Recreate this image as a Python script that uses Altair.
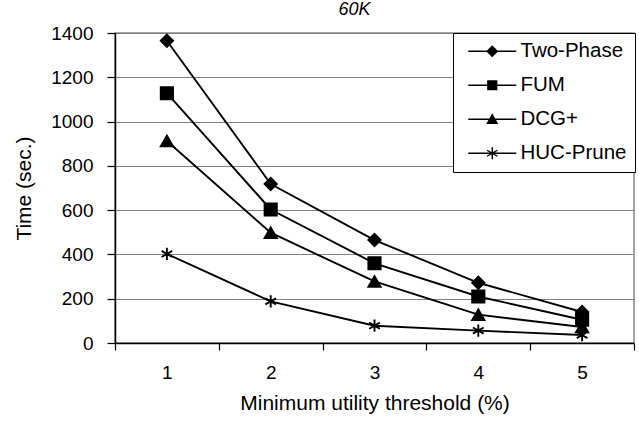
import altair as alt
import pandas as pd

thresholds = ["1", "2", "3", "4", "5"]
series_names = ["Two-Phase", "FUM", "DCG+", "HUC-Prune"]
two_phase = [1365, 718, 465, 272, 140]
fum = [1128, 603, 360, 210, 105]
dcg_plus = [912, 498, 278, 128, 72]
huc_prune = [402, 188, 78, 56, 36]
y_ticks = [0, 200, 400, 600, 800, 1000, 1200, 1400]

rows = []
for name, vals in zip(series_names, [two_phase, fum, dcg_plus, huc_prune]):
    for t, v in zip(thresholds, vals):
        rows.append({"threshold": t, "time": v, "series": name})
df = pd.DataFrame(rows)

FONT = "Liberation Sans"

# marker shapes (style only)
ASTER = "M0,-1V1M-0.87,-0.5L0.87,0.5M-0.87,0.5L0.87,-0.5"
plot_shapes = ["diamond", "square", "triangle-up", ASTER]

# legend symbols: thin filled bar (the line) plus the marker, all filled
BAR = "M-4,-0.14H4V0.14H-4Z"
ASTER_FILLED = (
    "M0.12,-1L0.12,1L-0.12,1L-0.12,-1Z"
    "M-0.806,-0.604L0.926,0.396L0.806,0.604L-0.926,-0.396Z"
    "M0.926,-0.396L-0.806,0.604L-0.926,0.396L0.806,-0.604Z"
)
legend_shapes = [
    BAR + "M0,-1L1,0L0,1L-1,0Z",
    BAR + "M-0.85,-0.85H0.85V0.85H-0.85Z",
    BAR + "M0,-1L1,0.8H-1Z",
    BAR + ASTER_FILLED,
]

x_enc = alt.X(
    "threshold:O",
    sort=thresholds,
    scale=alt.Scale(type="band", paddingInner=0, paddingOuter=0),
    axis=alt.Axis(
        title="Minimum utility threshold (%)",
        labelAngle=0,
        tickBand="extent",
        grid=False,
        tickSize=7,
        labelPadding=13,
        titlePadding=10,
    ),
)
y_enc = alt.Y(
    "time:Q",
    scale=alt.Scale(domain=[0, 1400], nice=False),
    axis=alt.Axis(
        title="Time (sec.)",
        values=y_ticks,
        format="d",
        grid=True,
        tickSize=8,
        labelPadding=14,
        titlePadding=16,
    ),
)

base = alt.Chart(df)

lines = base.mark_line(color="black", strokeWidth=1.9).encode(
    x=x_enc, y=y_enc, detail="series:N"
)

points = base.mark_point(
    filled=True, fill="black", stroke="black", strokeWidth=1.9, size=150, opacity=1
).encode(
    x=x_enc,
    y=y_enc,
    shape=alt.Shape(
        "series:N",
        scale=alt.Scale(domain=series_names, range=plot_shapes),
        legend=None,
    ),
)

legend_layer = base.transform_filter("false").mark_point(
    filled=True, fill="black", size=144, opacity=1
).encode(
    x=x_enc,
    y=y_enc,
    shape=alt.Shape(
        "series:N",
        scale=alt.Scale(domain=series_names, range=legend_shapes),
        legend=alt.Legend(
            title=None,
            orient="none",
            legendX=338,
            legendY=0,
            direction="vertical",
            labelFont=FONT,
            labelFontSize=20.5,
            labelColor="black",
            symbolSize=144,
            symbolFillColor="black",
            symbolOpacity=1,
            symbolOffset=21,
            labelOffset=18,
            rowPadding=13,
            padding=8,
            strokeColor="black",
            fillColor="white",
            cornerRadius=0,
        ),
    ),
)

chart = (
    alt.layer(lines, points, legend_layer)
    .resolve_scale(shape="independent")
    .properties(
        width=519,
        height=310,
        padding={"left": 115, "top": 33, "right": 5, "bottom": 80},
        autosize=alt.AutoSizeParams(type="none"),
        title=alt.Title(
            "60K",
            font=FONT,
            fontSize=18,
            fontStyle="italic",
            fontWeight="normal",
            color="black",
            anchor="middle",
            dx=-20,
            offset=5,
        ),
    )
    .configure(background="white")
    .configure_view(stroke="#888888", strokeWidth=1.5)
    .configure_axis(
        labelFont=FONT,
        labelFontSize=19,
        labelColor="black",
        titleFont=FONT,
        titleFontSize=21,
        titleFontWeight="normal",
        titleColor="black",
        domainColor="black",
        domainWidth=1.5,
        tickColor="black",
        tickWidth=1.2,
        gridColor="#808080",
        gridWidth=1,
    )
)

chart.save("out.html", embed_options={"renderer": "svg", "actions": False})
